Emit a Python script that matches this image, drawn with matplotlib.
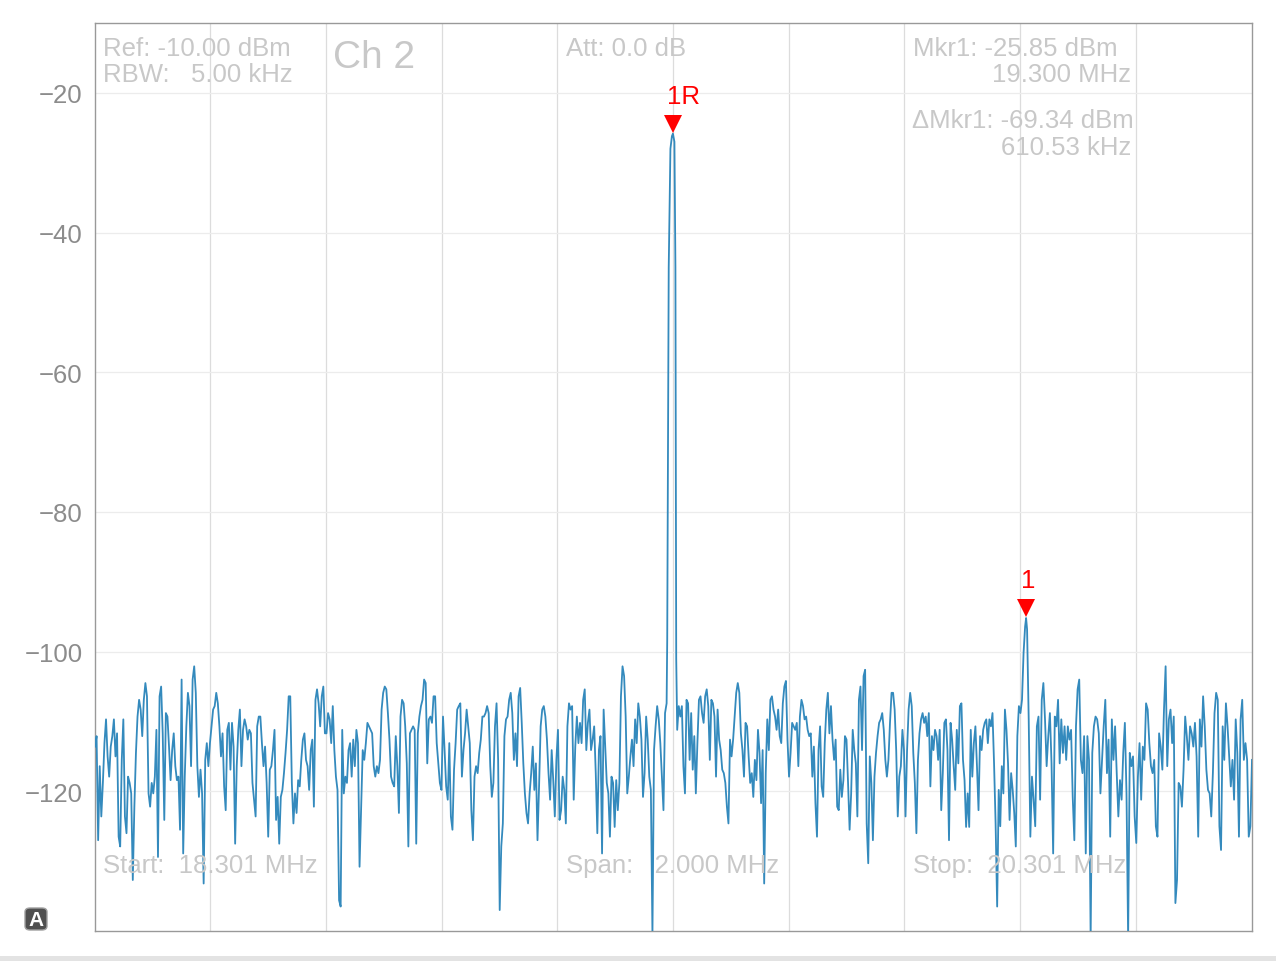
import numpy as np
import matplotlib
matplotlib.use("Agg")
import matplotlib.pyplot as plt
from matplotlib.patches import FancyBboxPatch, Rectangle
from matplotlib import transforms

plt.rcParams['font.family'] = ['Liberation Sans', 'DejaVu Sans']

# ---------------- data ----------------
start_mhz = 18.301
stop_mhz = 20.301
ref_level = -10.0
bottom_level = -140.0
y_ticks = [-20, -40, -60, -80, -100, -120]
grid_freqs = [18.5, 18.7, 18.9, 19.1, 19.3, 19.5, 19.7, 19.9, 20.1]

# noise floor left of the carrier (dBm), evenly spaced bins
noise_left_range = (18.301, 19.2891)
noise_left = [
    -113.6, -112.1, -127.0, -116.4, -123.6, -118.8, -113.1, -109.7, -115.0, -117.9,
    -113.6, -112.1, -109.7, -115.0, -111.7, -126.5, -127.9, -115.5, -109.7, -123.6,
    -126.0, -117.9, -118.8, -120.3, -132.7, -122.2, -114.5, -109.3, -106.9, -108.3,
    -112.1, -106.9, -104.5, -106.4, -120.3, -122.2, -118.8, -120.3, -117.9, -111.2,
    -129.4, -106.4, -105.0, -111.7, -124.1, -108.8, -109.3, -113.6, -118.4, -114.1,
    -111.7, -116.4, -118.4, -117.9, -125.5, -104.0, -128.9, -117.9, -110.7, -105.9,
    -107.8, -116.4, -104.0, -102.1, -105.9, -116.4, -120.8, -116.9, -120.3, -133.2,
    -115.5, -113.1, -116.4, -113.1, -110.7, -108.3, -107.8, -105.9, -107.4, -110.7,
    -115.0, -111.7, -119.3, -122.7, -111.2, -110.2, -116.9, -110.2, -113.6, -127.5,
    -116.4, -111.2, -108.3, -116.4, -111.2, -109.7, -110.7, -112.6, -111.2, -111.7,
    -118.8, -121.2, -123.6, -110.7, -109.3, -109.3, -113.1, -116.4, -113.6, -118.8,
    -126.5, -116.9, -116.4, -114.1, -111.2, -124.1, -120.8, -127.5, -120.8, -119.8,
    -117.4, -114.5, -111.2, -106.4, -106.4, -118.8, -124.6, -120.3, -123.1, -118.4,
    -119.3, -115.5, -112.6, -111.7, -115.5, -116.4, -119.8, -114.1, -112.6, -122.2,
    -106.9, -105.4, -107.4, -110.7, -106.4, -105.0, -111.7, -111.7, -108.8, -109.7,
    -113.1, -107.8, -114.1, -117.9, -119.8, -135.6, -136.5, -111.2, -120.3, -117.9,
    -118.8, -114.1, -113.1, -117.9, -112.6, -116.4, -111.2, -113.1, -130.8, -122.7,
    -114.1, -115.5, -113.1, -110.2, -110.7, -111.2, -111.7, -116.4,
    -117.9, -116.4, -117.4, -115.5, -108.3, -105.9, -105.0, -105.4, -108.8, -112.6,
    -117.9, -118.8, -119.3, -112.1, -116.4, -123.1, -109.3, -106.9, -107.4, -110.7,
    -116.0, -127.9, -111.7, -111.2, -110.7, -111.2, -127.5, -111.7, -109.3, -107.8,
    -106.9, -104.0, -104.5, -116.0, -109.7, -109.3, -110.2, -106.4, -106.4, -113.1,
    -116.0, -118.8, -119.8, -109.3, -114.1, -119.3, -121.2, -113.1, -123.6, -125.5,
    -116.9, -113.1, -108.3, -107.8, -107.4, -117.9, -114.1, -111.7, -108.3, -110.7,
    -113.1, -122.7, -127.0, -117.9, -116.4, -117.4, -114.5, -112.6, -109.3, -109.3,
    -108.8, -107.8, -108.8, -116.4, -120.8, -118.8, -110.7, -107.4, -115.5, -137.0,
    -127.9, -124.6, -112.1, -109.7, -109.3, -106.9, -105.9, -108.8, -115.5, -111.7,
    -116.4, -106.4, -105.2, -110.2, -116.0, -120.3, -123.1, -124.6, -120.3, -117.4,
    -113.6, -119.8, -116.0, -127.0, -119.3, -110.7, -108.3, -107.8, -109.3, -112.6,
    -117.4, -121.2, -114.1, -118.4, -123.6, -115.5, -111.2, -124.1, -122.7, -117.9,
    -119.8, -124.6, -110.7, -107.4, -108.3, -107.8, -121.2, -113.6, -109.3, -113.1,
    -110.2, -113.1, -106.9, -105.4, -114.1, -110.2, -108.3, -114.1, -112.6, -110.7,
    -117.4, -126.0, -114.1, -112.1, -128.9, -108.3, -113.6, -118.8, -120.3, -126.5,
    -117.9, -118.8, -125.1, -118.4, -122.7, -118.8, -106.4, -102.1, -103.5, -109.3,
    -120.3, -117.9, -115.0, -112.6, -116.4, -109.7, -113.1, -107.4, -109.3, -112.6,
    -120.8, -117.4, -109.3, -112.6, -117.9, -119.8, -140.5, -114.1, -110.7, -107.8,
    -109.7, -113.1, -117.9, -122.7, -108.8, -107.4,
]

# main carrier (reference marker 1R)
peak_freq = [19.29015, 19.29274, 19.29568, 19.29827, 19.30000, 19.30259, 19.30432, 19.30570]
peak_level = [-98.3, -45.0, -28.0, -26.2, -25.85, -27.0, -45.0, -101.0]

# noise between carrier and spur
noise_mid_range = (19.3074, 19.9088)
noise_mid = [
    -111.2, -107.8, -109.3, -107.8, -116.4, -120.3, -106.9, -107.4, -115.5, -108.8,
    -116.9, -112.1, -120.3, -113.1, -106.9, -106.4, -108.8, -110.2, -106.4, -105.4,
    -107.8, -115.5, -106.9, -107.4, -109.3, -117.9, -108.3, -112.6, -114.1, -116.9,
    -117.4, -118.8, -122.2, -124.6, -112.6, -115.0, -112.6, -109.3, -105.9, -104.5,
    -105.9, -111.7, -114.1, -117.9, -110.2, -110.7, -115.0, -118.8, -117.4, -120.8,
    -115.5, -118.4, -111.2, -114.5, -121.7, -114.1, -133.2, -117.4, -109.7, -114.1,
    -106.9, -106.4, -108.3, -109.3, -111.2, -108.3, -112.1, -113.1, -107.4, -105.0,
    -104.2, -112.6, -117.9, -114.5, -110.2, -110.7, -111.2, -110.2, -116.4, -109.3,
    -106.9, -107.8, -109.7, -109.3, -111.2, -112.1, -111.7, -117.9, -113.6, -121.7,
    -126.5, -114.1, -110.7, -119.3, -120.8, -113.1, -108.3, -105.9, -111.7, -107.8,
    -112.6, -115.5, -112.6, -122.2, -122.7, -116.9, -120.8, -118.4, -112.1, -112.6,
    -118.8, -125.5, -120.3, -111.2, -114.1, -116.0, -123.6, -106.9, -105.0, -114.1,
    -103.5, -102.6, -124.6, -130.3, -115.0, -118.8, -127.0, -117.9, -114.5, -112.1,
    -110.2, -109.7, -108.8, -111.2, -115.5, -117.9, -115.5, -110.2, -105.9, -105.9,
    -108.3, -114.1, -123.6, -117.9, -116.4, -111.2, -114.1, -123.6, -114.1, -108.3,
    -105.9, -107.8, -114.5, -118.8, -126.0, -115.5, -111.7, -109.7, -108.8, -110.2,
    -109.3, -112.1, -108.8, -119.3, -112.1, -114.1, -111.2, -112.1, -115.5, -111.2,
    -122.7, -117.4, -110.2, -109.7, -114.1, -127.0, -110.2, -112.6, -116.4, -119.8,
    -111.2, -116.0, -107.8, -107.4, -115.5, -118.4, -125.1, -120.3, -125.1, -111.2,
    -117.9,
    -113.1, -110.7, -116.4, -122.7, -112.1, -114.1, -111.2, -110.2, -109.7, -113.1,
    -109.7, -110.7, -108.8, -116.0, -124.6, -136.5, -119.8, -125.0, -116.4, -120.3,
    -108.3, -111.2, -116.0, -124.1, -117.4, -119.8, -123.1, -127.9, -112.1, -107.8,
    -108.8, -106.9, -100.2, -96.4,
]

# spur (delta marker 1)
mkr1_freq = 19.9105
mkr1_level = -95.19

# noise right of the spur
noise_right_range = (19.9122, 20.301)
noise_right = [
    -96.8, -109.7, -126.5, -117.9, -121.2, -125.0, -110.7, -109.3, -121.2, -106.9,
    -104.5, -109.7, -116.4, -112.1, -108.8, -116.0, -128.9, -109.3, -110.7, -106.9,
    -116.0, -109.7, -114.5, -110.7, -115.5, -110.7, -112.6, -111.2, -120.8, -127.0,
    -110.7, -105.4, -104.0, -115.5, -117.4, -112.1, -128.9, -112.1, -115.5, -141.0,
    -114.5, -110.7, -109.3, -109.7, -111.7, -120.3, -115.5, -110.7, -106.9, -117.4,
    -112.6, -126.5, -109.7, -115.5, -110.7, -117.4, -123.6, -118.4, -121.2, -114.5,
    -110.2, -120.3, -141.0, -114.5, -116.4, -115.0, -123.6, -127.4, -117.9, -113.1,
    -121.2, -113.6, -115.5, -107.4, -108.3, -113.1, -116.4, -117.4, -115.5, -125.0,
    -126.5, -111.7, -113.6, -116.9, -108.3, -102.1, -116.4, -109.7, -108.3, -113.1,
    -109.3, -136.0, -132.7, -118.8, -119.3, -122.2, -116.9, -109.3, -112.1, -115.5,
    -110.7, -111.7, -113.6, -110.2, -115.0, -126.5, -109.7, -113.6, -106.4, -110.7,
    -116.9, -119.8, -120.3, -123.6, -117.4, -108.8, -105.9, -106.9, -125.0, -128.4,
    -110.7, -115.5, -107.4, -110.7, -115.0, -119.3, -115.5, -121.2, -109.7, -114.5,
    -126.5, -109.7, -106.9, -115.5, -113.1, -115.5, -126.5, -125.0, -115.5,
]

ref_mkr_freq = 19.300
ref_mkr_level = -25.85

info_left = ["Ref: -10.00 dBm", "RBW:   5.00 kHz"]
channel_label = "Ch 2"
att_label = "Att: 0.0 dB"
mkr_lines = ["Mkr1: -25.85 dBm", "19.300 MHz"]
dmkr_lines = ["\u0394Mkr1: -69.34 dBm", "610.53 kHz"]
start_label = "Start:  18.301 MHz"
span_label = "Span:   2.000 MHz"
stop_label = "Stop:  20.301 MHz"

# ---------------- build trace ----------------
f_left = np.linspace(noise_left_range[0], noise_left_range[1], len(noise_left))
f_mid = np.linspace(noise_mid_range[0], noise_mid_range[1], len(noise_mid))
f_right = np.linspace(noise_right_range[0], noise_right_range[1], len(noise_right))
freq = np.concatenate([f_left, peak_freq, f_mid, [mkr1_freq], f_right])
level = np.concatenate([noise_left, peak_level, noise_mid, [mkr1_level], noise_right])

# ---------------- figure ----------------
W, H = 1276, 962
fig = plt.figure(figsize=(W / 100, H / 100), dpi=100)
ax = fig.add_axes([95 / W, 1 - 932 / H, (1252 - 95) / W, (932 - 24) / H])

ax.set_xlim(start_mhz, stop_mhz)
ax.set_ylim(bottom_level, ref_level)

# grid
for f in grid_freqs:
    ax.axvline(f, color='#dcdcdc', lw=0.9, zorder=0)
for yv in y_ticks:
    ax.axhline(yv, color='#ececec', lw=0.9, zorder=0)

ax.plot(freq, level, color='#348ABD', lw=1.3, zorder=3)

ax.set_xticks([])
ax.set_yticks(y_ticks)
ax.set_yticklabels([str(v).replace('-', '\u2212') for v in y_ticks])
ax.tick_params(axis='y', length=0, pad=9, labelsize=18.5, labelcolor='#8c8c8c')
for s in ax.spines.values():
    s.set_color('#999999')
    s.set_linewidth(1.0)

# markers
def marker(fq, lv, label):
    tri = transforms.offset_copy(ax.transData, fig=fig, x=0, y=10, units='dots')
    ax.plot([fq], [lv], marker='v', color='red', markersize=12.5, markeredgewidth=0,
            transform=tri, zorder=5, clip_on=False)
    txt = transforms.offset_copy(ax.transData, fig=fig, x=-5.5, y=26, units='dots')
    ax.text(fq, lv, label, color='red', fontsize=18.5, ha='left', va='bottom',
            transform=txt, zorder=6)

marker(ref_mkr_freq, ref_mkr_level, "1R")
marker(mkr1_freq, mkr1_level, "1")

# info text
gray = '#c8c8c8'
def ftxt(x, y, s, size=18.5, ha='left'):
    fig.text(x / W, 1 - y / H, s, color=gray, fontsize=size, ha=ha, va='baseline')

ftxt(103, 56, info_left[0])
ftxt(103, 82, info_left[1])
ftxt(333, 68, channel_label, size=28)
ftxt(566, 56, att_label)
ftxt(913, 56, mkr_lines[0])
ftxt(1131, 82, mkr_lines[1], ha='right')
ftxt(912, 128, dmkr_lines[0])
ftxt(1131, 155, dmkr_lines[1], ha='right')
ftxt(103, 873, start_label)
ftxt(566, 873, span_label)
ftxt(913, 873, stop_label)

# "A" badge
badge = FancyBboxPatch((25 / W, 1 - 931 / H), 22 / W, 22 / H,
                       boxstyle="round,pad=0,rounding_size=0.004",
                       transform=fig.transFigure, facecolor='#505050',
                       edgecolor='#a0a0a0', lw=1.0)
fig.patches.append(badge)
fig.text(36 / W, 1 - 920 / H, "A", color='white', fontsize=15, fontweight='bold',
         ha='center', va='center')

# bottom bar
fig.patches.append(Rectangle((0, 0), 1, 5 / H, transform=fig.transFigure,
                             facecolor='#e3e3e3', edgecolor='none'))

fig.savefig("out.png", dpi=100)
